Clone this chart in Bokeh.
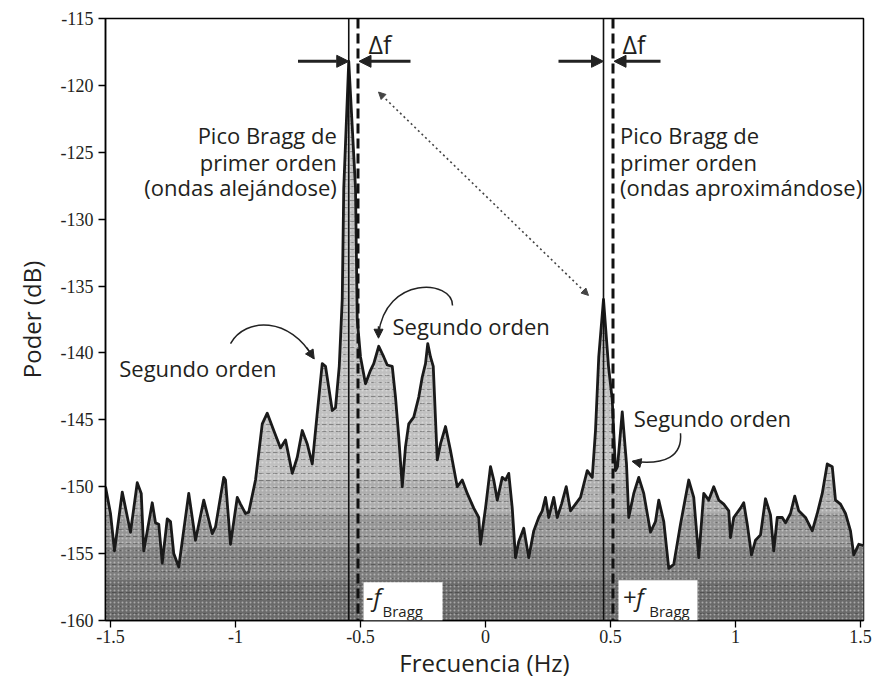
import numpy as np
from bokeh.plotting import figure
from bokeh.models import (Range1d, FixedTicker, Arrow, NormalHead,
                          Span, BoxAnnotation, Label, ColumnDataSource)
from bokeh.embed import file_html
from bokeh.resources import INLINE

# ---------------- data ----------------
freq = [-1.52, -1.50, -1.484, -1.453, -1.42, -1.393, -1.377, -1.367, -1.333, -1.32,
        -1.307, -1.293, -1.273, -1.26, -1.247, -1.227, -1.187, -1.16, -1.127, -1.093,
        -1.08, -1.047, -1.04, -1.02, -0.993, -0.98, -0.96, -0.947, -0.92, -0.893,
        -0.873, -0.847, -0.82, -0.80, -0.773, -0.753, -0.733, -0.713, -0.693, -0.673,
        -0.653, -0.64, -0.613, -0.60, -0.585, -0.573, -0.567, -0.547, -0.52, -0.513,
        -0.50, -0.48, -0.46, -0.447, -0.427, -0.407, -0.393, -0.373, -0.36, -0.347,
        -0.333, -0.32, -0.307, -0.287, -0.267, -0.253, -0.24, -0.231, -0.22, -0.209,
        -0.193, -0.18, -0.16, -0.14, -0.113, -0.093, -0.073, -0.047, -0.027, -0.02,
        0.0, 0.02, 0.033, 0.047, 0.067, 0.08, 0.093, 0.107, 0.12, 0.133,
        0.153, 0.173, 0.193, 0.213, 0.227, 0.24, 0.253, 0.273, 0.287, 0.304,
        0.323, 0.34, 0.36, 0.38, 0.407, 0.427, 0.44, 0.453, 0.472, 0.492,
        0.507, 0.52, 0.528, 0.547, 0.564, 0.573, 0.593, 0.613, 0.633, 0.66,
        0.68, 0.693, 0.713, 0.733, 0.753, 0.78, 0.813, 0.833, 0.853, 0.873,
        0.893, 0.913, 0.933, 0.953, 0.973, 0.98, 0.993, 1.02, 1.033, 1.047,
        1.064, 1.08, 1.10, 1.12, 1.14, 1.153, 1.167, 1.187, 1.20, 1.22,
        1.237, 1.253, 1.28, 1.307, 1.327, 1.347, 1.367, 1.387, 1.40, 1.42,
        1.44, 1.46, 1.473, 1.493, 1.512]
power = [-150.0, -152.0, -154.8, -150.4, -153.4, -149.7, -150.5, -154.8, -151.2, -152.7,
         -152.8, -155.7, -152.4, -152.6, -155.0, -156.0, -150.5, -154.0, -151.0, -153.5,
         -153.0, -149.3, -149.5, -154.3, -150.8, -151.3, -152.0, -151.9, -149.5, -145.3,
         -144.5, -145.8, -147.1, -146.5, -149.0, -147.8, -145.8, -146.8, -148.3, -144.5,
         -140.8, -141.0, -144.3, -144.1, -141.0, -136.0, -127.7, -118.2, -127.7, -137.5,
         -140.3, -142.3, -141.3, -140.8, -139.5, -140.3, -140.9, -141.0, -143.3, -146.3,
         -150.0, -147.0, -145.3, -144.8, -143.3, -141.8, -140.8, -139.3, -140.3, -141.0,
         -148.0, -146.8, -145.5, -147.3, -150.0, -149.5, -150.5, -151.6, -152.3, -154.3,
         -151.6, -148.5, -149.5, -151.0, -149.3, -149.5, -149.0, -151.6, -155.3, -154.1,
         -153.1, -155.3, -153.3, -152.3, -151.8, -150.8, -152.3, -150.8, -152.3, -151.3,
         -150.0, -151.8, -151.3, -150.8, -148.8, -149.3, -145.8, -140.3, -136.0, -141.0,
         -143.5, -148.8, -148.5, -144.4, -148.3, -152.3, -150.5, -149.3, -150.5, -153.4,
         -152.6, -151.0, -152.6, -156.1, -155.8, -152.8, -149.5, -150.8, -155.3, -150.5,
         -151.0, -150.0, -151.0, -151.3, -151.8, -153.8, -152.3, -151.6, -151.2, -152.8,
         -155.1, -154.0, -153.6, -150.9, -152.1, -154.8, -152.3, -152.3, -152.7, -152.0,
         -150.7, -151.8, -152.3, -153.3, -152.0, -150.5, -148.3, -148.5, -151.0, -151.3,
         -152.0, -153.3, -155.1, -154.3, -154.4]

xtick_values = [-1.5, -1.0, -0.5, 0.0, 0.5, 1.0, 1.5]
xtick_labels = ["-1.5", "-1", "-0.5", "0", "0.5", "1", "1.5"]
ytick_values = [-160, -155, -150, -145, -140, -135, -130, -125, -120, -115]
ytick_labels = ["-160", "-155", "-150", "-145", "-140", "-135", "-130", "-125", "-120", "-115"]

f_bragg_neg = -0.51      # dashed lines (theoretical Bragg frequencies)
f_bragg_pos = 0.51
peak_neg = -0.547        # measured first-order peaks (solid lines)
peak_pos = 0.472

x_min, x_max = -1.52, 1.512
y_min, y_max = -160, -115

TXT = "#231f20"
FONT = "Open Sans"
TICK_FONT = "Liberation Sans Narrow"

PLOT_W, PLOT_H = 875, 683
B_LEFT, B_RIGHT, B_TOP, B_BOTTOM = 105, 12, 18, 63

# ---------------- figure ----------------
p = figure(width=PLOT_W, height=PLOT_H, output_backend="svg", toolbar_location=None,
           x_range=Range1d(x_min, x_max), y_range=Range1d(y_min, y_max),
           min_border_left=B_LEFT, min_border_right=B_RIGHT, min_border_top=B_TOP,
           min_border_bottom=B_BOTTOM)
p.grid.visible = False
p.outline_line_color = "black"
p.outline_line_width = 1.5
p.background_fill_color = "white"
p.border_fill_color = "white"

src = ColumnDataSource(dict(x=np.array(freq), y=np.array(power)))
pw = np.array(power)
# textured grey fill, darker toward the bottom
p.varea(x=freq, y1=y_min, y2=power, fill_color="#c0c0c0")
p.varea(x=freq, y1=y_min, y2=np.minimum(pw, -149.5), fill_color="#8a8a8a", fill_alpha=0.35)
p.varea(x=freq, y1=y_min, y2=np.minimum(pw, -152.0), fill_color="#6a6a6a", fill_alpha=0.35)
p.varea(x=freq, y1=y_min, y2=np.minimum(pw, -154.5), fill_color="#505050", fill_alpha=0.35)
p.varea(x=freq, y1=y_min, y2=np.minimum(pw, -157.0), fill_color="#404040", fill_alpha=0.3)
p.varea(x=freq, y1=y_min, y2=power, fill_alpha=0.0,
        hatch_pattern="horizontal_dash", hatch_color="#2e2e2e", hatch_alpha=0.4,
        hatch_scale=7, hatch_weight=1)
p.varea(x=freq, y1=y_min, y2=power, fill_alpha=0.0,
        hatch_pattern="dot", hatch_color="#f4f4f4", hatch_alpha=0.45, hatch_scale=4)
p.line("x", "y", source=src, line_color="#1a1a1a", line_width=2.8, line_join="round")

# axes styling
def style_axis(ax):
    ax.axis_line_color = "black"
    ax.axis_line_width = 1.5
    ax.major_tick_line_color = "black"
    ax.major_tick_line_width = 1.3
    ax.major_tick_out = 7
    ax.major_tick_in = 0
    ax.minor_tick_out = 0
    ax.minor_tick_in = 0
    ax.major_label_text_font = TICK_FONT
    ax.major_label_text_font_size = "18px"
    ax.major_label_text_color = TXT
    ax.axis_label_text_font = FONT
    ax.axis_label_text_font_size = "24px"
    ax.axis_label_text_font_style = "normal"
    ax.axis_label_text_color = TXT

xa = p.xaxis[0]
xa.ticker = FixedTicker(ticks=xtick_values)
xa.major_label_overrides = dict(zip(xtick_values, xtick_labels))
xa.axis_label = "Frecuencia (Hz)"
style_axis(xa)
xa.major_label_standoff = 2
xa.axis_label_standoff = 0

ya = p.yaxis[0]
ya.ticker = FixedTicker(ticks=ytick_values)
ya.major_label_overrides = dict(zip(ytick_values, ytick_labels))
ya.axis_label = "Poder (dB)"
style_axis(ya)
ya.major_label_standoff = 5
ya.axis_label_standoff = 10

# outward tick marks on the top and right frame edges
tick_len_px = 7
x_per_px = (x_max - x_min) / (PLOT_W - B_LEFT - B_RIGHT)
y_per_px = (y_max - y_min) / (PLOT_H - B_TOP - B_BOTTOM)
for v in xtick_values:
    p.add_layout(Arrow(end=None, x_start=v, y_start=y_max, x_end=v,
                       y_end=y_max + tick_len_px * y_per_px,
                       line_color="black", line_width=1.3))
for v in ytick_values:
    p.add_layout(Arrow(end=None, x_start=x_max, y_start=v,
                       x_end=x_max + tick_len_px * x_per_px, y_end=v,
                       line_color="black", line_width=1.3))

# white label boxes for f_Bragg
p.add_layout(BoxAnnotation(left=-0.488, right=-0.172, bottom=y_min, top=-157.15,
                           fill_color="white", fill_alpha=1.0, line_color=None))
p.add_layout(BoxAnnotation(left=0.532, right=0.848, bottom=y_min, top=-157.0,
                           fill_color="white", fill_alpha=1.0, line_color=None))

# vertical lines
for loc in (peak_neg, peak_pos):
    p.add_layout(Span(location=loc, dimension="height", line_color="#111111", line_width=1.6))
for loc in (f_bragg_neg, f_bragg_pos):
    p.add_layout(Span(location=loc, dimension="height", line_color="#111111",
                      line_width=3, line_dash="10 5"))

# delta-f arrows
dy = -118.2
def head(size=12):
    return NormalHead(size=size, fill_color="#222222", line_color="#222222")
p.add_layout(Arrow(end=head(), x_start=-0.75, y_start=dy, x_end=peak_neg, y_end=dy,
                   line_width=3, line_color="#222222"))
p.add_layout(Arrow(end=head(), x_start=-0.30, y_start=dy, x_end=f_bragg_neg + 0.004, y_end=dy,
                   line_width=3, line_color="#222222"))
p.add_layout(Arrow(end=head(), x_start=0.292, y_start=dy, x_end=peak_pos, y_end=dy,
                   line_width=3, line_color="#222222"))
p.add_layout(Arrow(end=head(), x_start=0.70, y_start=dy, x_end=f_bragg_pos + 0.004, y_end=dy,
                   line_width=3, line_color="#222222"))

# dotted double arrow between peaks
p.add_layout(Arrow(start=NormalHead(size=7, fill_color="#444", line_color="#444"),
                   end=NormalHead(size=7, fill_color="#444", line_color="#444"),
                   x_start=-0.428, y_start=-120.5, x_end=0.412, y_end=-135.7,
                   line_width=1.6, line_dash="2 3", line_color="#444444"))

# curved arrows (Segundo orden)
p.bezier(x0=[-1.02, -0.132, 0.78], y0=[-139.3, -136.45, -146.0],
         x1=[-0.688, -0.428, 0.59], y1=[-140.4, -138.6, -148.1],
         cx0=[-0.96, -0.132, 0.788], cy0=[-137.3, -134.5, -147.7],
         cx1=[-0.78, -0.40, 0.72], cy1=[-137.3, -134.2, -148.4],
         line_color="#222222", line_width=1.5)
p.add_layout(Arrow(end=NormalHead(size=9, fill_color="#222", line_color="#222"),
                   x_start=-0.715, y_start=-139.6, x_end=-0.685, y_end=-140.45,
                   line_width=1.5, line_color="#222222"))
p.add_layout(Arrow(end=NormalHead(size=9, fill_color="#222", line_color="#222"),
                   x_start=-0.428, y_start=-138.0, x_end=-0.428, y_end=-138.9,
                   line_width=1.5, line_color="#222222"))
p.add_layout(Arrow(end=NormalHead(size=9, fill_color="#222", line_color="#222"),
                   x_start=0.625, y_start=-148.25, x_end=0.586, y_end=-148.1,
                   line_width=1.5, line_color="#222222"))

# text labels
def lab(x, y, t, size="22px", align="left", style="normal", base="middle"):
    p.add_layout(Label(x=x, y=y, text=t, text_font=FONT, text_font_size=size,
                       text_color=TXT, text_align=align, text_baseline=base,
                       text_font_style=style))

lab(-0.468, -116.9, "\u0394f", size="25px")
lab(0.548, -116.9, "\u0394f", size="25px")
for yy, t in zip([-123.74, -125.69, -127.63],
                 ["Pico Bragg de", "primer orden", "(ondas alejándose)"]):
    lab(-0.595, yy, t, align="right")
for yy, t in zip([-123.74, -125.69, -127.63],
                 ["Pico Bragg de", "primer orden", "(ondas aproximándose)"]):
    lab(0.538, yy, t, align="left")
lab(-1.465, -141.1, "Segundo orden")
lab(-0.372, -138.0, "Segundo orden")
lab(0.593, -144.9, "Segundo orden")

lab(-0.478, -158.2, "-f", size="24px", style="italic")
lab(-0.412, -159.3, "Bragg", size="15px")
lab(0.548, -158.2, "+f", size="24px", style="italic")
lab(0.655, -159.3, "Bragg", size="15px")

open("out.html", "w").write(file_html(p, INLINE))
